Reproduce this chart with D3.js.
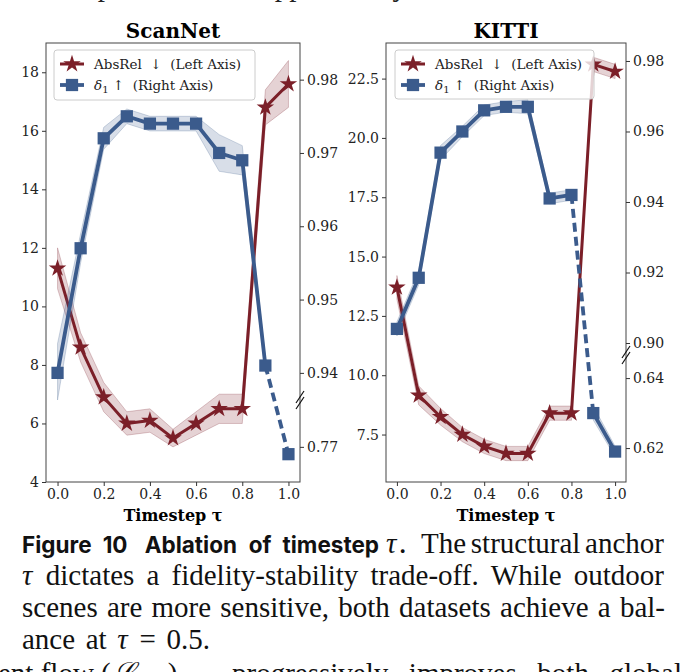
<!DOCTYPE html>
<html>
<head>
<meta charset="utf-8">
<script src="https://cdn.jsdelivr.net/npm/d3@7"></script>
<style>
  body { margin: 0; background: #fff; }
  svg { display: block; }
</style>
</head>
<body>
<div id="chart"></div>
<script>
// timestep values on the x axis
const taus = [0.0, 0.1, 0.2, 0.3, 0.4, 0.5, 0.6, 0.7, 0.8, 0.9, 1.0];
const xTicks = [0.0, 0.2, 0.4, 0.6, 0.8, 1.0];

// ScanNet
const scannetAbsRel = [11.3, 8.6, 6.9, 6.0, 6.1, 5.5, 6.0, 6.5, 6.5, 16.8, 17.6];
const scannetAbsRelStd = [0.7, 0.5, 0.5, 0.4, 0.4, 0.3, 0.4, 0.5, 0.5, 0.6, 0.8];
const scannetDelta = [0.940, 0.957, 0.972, 0.975, 0.974, 0.974, 0.974, 0.970, 0.969, 0.941, 0.769];
const scannetDeltaStd = [0.004, 0.002, 0.0015, 0.001, 0.001, 0.001, 0.001, 0.0025, 0.002, 0.001, 0.0003];
const scannetLeftTicks = [4, 6, 8, 10, 12, 14, 16, 18];
const scannetRightTicks = [0.77, 0.94, 0.95, 0.96, 0.97, 0.98];

// KITTI
const kittiAbsRel = [13.7, 9.15, 8.25, 7.5, 7.0, 6.7, 6.7, 8.4, 8.4, 23.1, 22.8];
const kittiAbsRelStd = [0.5, 0.4, 0.35, 0.3, 0.3, 0.3, 0.3, 0.3, 0.3, 0.3, 0.3];
const kittiDelta = [0.904, 0.9185, 0.954, 0.960, 0.966, 0.967, 0.967, 0.941, 0.942, 0.630, 0.619];
const kittiDeltaStd = [0.002, 0.002, 0.002, 0.0015, 0.0015, 0.0015, 0.002, 0.0015, 0.0015, 0.002, 0.0015];
const kittiLeftTicks = [7.5, 10.0, 12.5, 15.0, 17.5, 20.0, 22.5];
const kittiRightTicks = [0.62, 0.64, 0.90, 0.92, 0.94, 0.96, 0.98];

const width = 689;
const height = 672;
const red = '#7b1f28';
const blue = '#3b5b8c';
const serif = '"DejaVu Serif", serif';
const tex = '"Liberation Serif", serif';
const sans = 'Inter, "Noto Sans", sans-serif';
const texSize = 29;

const svg = d3.select('#chart')
    .append('svg')
    .attr('width', width)
    .attr('height', height)
    .attr('viewBox', [0, 0, width, height]);

svg.append('rect').attr('width', width).attr('height', height).attr('fill', '#fff');

const panels = [
    {
        title: 'ScanNet', left: 46, right: 300, top: 43, bottom: 482,
        absRel: scannetAbsRel, absStd: scannetAbsRelStd,
        delta: scannetDelta, deltaStd: scannetDeltaStd,
        leftDomain: [4, 19], leftTicks: scannetLeftTicks, leftFormat: d3.format('d'),
        // lower part of broken right axis, then upper part
        rightDomain: [0.7652, 0.7764, 0.9363, 0.985], breakY: 400,
        rightTicks: scannetRightTicks,
        legend: { x: 54, y: 50, w: 201, h: 50 }
    },
    {
        title: 'KITTI', left: 386, right: 626, top: 43, bottom: 482,
        absRel: kittiAbsRel, absStd: kittiAbsRelStd,
        delta: kittiDelta, deltaStd: kittiDeltaStd,
        leftDomain: [5.5, 24.0], leftTicks: kittiLeftTicks, leftFormat: d3.format('.1f'),
        rightDomain: [0.6103, 0.6466, 0.8966, 0.9851], breakY: 355,
        rightTicks: kittiRightTicks,
        legend: { x: 395, y: 50, w: 199, h: 49 }
    }
];

panels.forEach(p => drawPanel(p));

function drawPanel(p) {
    const g = svg.append('g');
    const x = d3.scaleLinear().domain([-0.05, 1.05]).range([p.left, p.right]);
    const yL = d3.scaleLinear().domain(p.leftDomain).range([p.bottom, p.top]);
    const yR = d3.scaleLinear().domain(p.rightDomain)
        .range([p.bottom, p.breakY, p.breakY, p.top]);
    const breakVal = p.rightDomain[1];

    const redPts = taus.map((t, i) => ({ t, v: p.absRel[i], s: p.absStd[i] }));
    const bluePts = taus.map((t, i) => ({ t, v: p.delta[i], s: p.deltaStd[i] }));
    const upper = bluePts.filter(d => d.v > breakVal);
    const lower = bluePts.filter(d => d.v <= breakVal);

    // AbsRel (left axis)
    const redArea = d3.area().x(d => x(d.t)).y0(d => yL(d.v - d.s)).y1(d => yL(d.v + d.s));
    g.append('path').datum(redPts)
        .attr('d', redArea)
        .attr('fill', red).attr('fill-opacity', 0.2)
        .attr('stroke', red).attr('stroke-opacity', 0.3).attr('stroke-width', 0.8);
    g.append('path').datum(redPts)
        .attr('d', d3.line().x(d => x(d.t)).y(d => yL(d.v)))
        .attr('fill', 'none').attr('stroke', red).attr('stroke-width', 3)
        .attr('stroke-linejoin', 'round');
    g.selectAll('.star').data(redPts).join('path')
        .attr('transform', d => `translate(${x(d.t)},${yL(d.v)})`)
        .attr('d', d3.symbol(d3.symbolStar, 95))
        .attr('fill', red);

    // delta_1 (right axis), broken into an upper and lower part
    const blueArea = d3.area().x(d => x(d.t)).y0(d => yR(d.v - d.s)).y1(d => yR(d.v + d.s));
    const blueLine = d3.line().x(d => x(d.t)).y(d => yR(d.v));
    [upper, lower].forEach(seg => {
        if (seg.length < 2) return;
        g.append('path').datum(seg)
            .attr('d', blueArea)
            .attr('fill', blue).attr('fill-opacity', 0.2)
            .attr('stroke', blue).attr('stroke-opacity', 0.3).attr('stroke-width', 0.8);
    });
    [upper, lower].forEach(seg => {
        if (seg.length < 2) return;
        g.append('path').datum(seg)
            .attr('d', blueLine)
            .attr('fill', 'none').attr('stroke', blue).attr('stroke-width', 3.8)
            .attr('stroke-linejoin', 'round');
    });
    g.append('path').datum([upper[upper.length - 1], lower[0]])
        .attr('d', blueLine)
        .attr('fill', 'none').attr('stroke', blue).attr('stroke-width', 3.8)
        .attr('stroke-dasharray', '9,5');
    g.selectAll('.sq').data(bluePts).join('path')
        .attr('transform', d => `translate(${x(d.t)},${yR(d.v)})`)
        .attr('d', d3.symbol(d3.symbolSquare, 150))
        .attr('fill', blue);

    // frame
    g.append('rect')
        .attr('x', p.left).attr('y', p.top)
        .attr('width', p.right - p.left).attr('height', p.bottom - p.top)
        .attr('fill', 'none').attr('stroke', '#444').attr('stroke-width', 1);

    // axes
    const styleAxis = a => {
        a.select('.domain').remove();
        a.selectAll('line').attr('stroke', '#333');
        a.selectAll('text').attr('font-family', serif).attr('font-size', 14).attr('fill', '#222');
    };
    g.append('g').attr('transform', `translate(${p.left},0)`)
        .call(d3.axisLeft(yL).tickValues(p.leftTicks).tickFormat(p.leftFormat).tickSize(4).tickPadding(3))
        .call(styleAxis);
    g.append('g').attr('transform', `translate(${p.right},0)`)
        .call(d3.axisRight(yR).tickValues(p.rightTicks).tickFormat(d3.format('.2f')).tickSize(4).tickPadding(3))
        .call(styleAxis);
    g.append('g').attr('transform', `translate(0,${p.bottom})`)
        .call(d3.axisBottom(x).tickValues(xTicks).tickFormat(d3.format('.1f')).tickSize(4).tickPadding(3))
        .call(styleAxis);

    // break marks on the right spine
    [-3, 3].forEach(o => {
        g.append('line')
            .attr('x1', p.right - 4).attr('y1', p.breakY + o + 6)
            .attr('x2', p.right + 4).attr('y2', p.breakY + o - 6)
            .attr('stroke', '#111').attr('stroke-width', 1.2);
    });

    // titles
    g.append('text')
        .attr('x', (p.left + p.right) / 2).attr('y', 38)
        .attr('text-anchor', 'middle')
        .attr('font-family', serif).attr('font-weight', 'bold').attr('font-size', 20)
        .text(p.title);
    g.append('text')
        .attr('x', (p.left + p.right) / 2).attr('y', 521)
        .attr('text-anchor', 'middle')
        .attr('font-family', serif).attr('font-weight', 'bold').attr('font-size', 16)
        .text('Timestep τ');

    // legend
    const L = p.legend;
    const lg = g.append('g');
    lg.append('rect')
        .attr('x', L.x).attr('y', L.y).attr('width', L.w).attr('height', L.h)
        .attr('rx', 3).attr('fill', '#fff').attr('fill-opacity', 0.8)
        .attr('stroke', '#ccc').attr('stroke-width', 1);
    const r1 = L.y + 14, r2 = L.y + 35;
    lg.append('line').attr('x1', L.x + 6).attr('x2', L.x + 30).attr('y1', r1).attr('y2', r1)
        .attr('stroke', red).attr('stroke-width', 3);
    lg.append('path').attr('transform', `translate(${L.x + 18},${r1})`)
        .attr('d', d3.symbol(d3.symbolStar, 95)).attr('fill', red);
    lg.append('line').attr('x1', L.x + 6).attr('x2', L.x + 30).attr('y1', r2).attr('y2', r2)
        .attr('stroke', blue).attr('stroke-width', 3.8);
    lg.append('path').attr('transform', `translate(${L.x + 18},${r2})`)
        .attr('d', d3.symbol(d3.symbolSquare, 150)).attr('fill', blue);
    lg.append('text')
        .attr('x', L.x + 40).attr('y', r1 + 5)
        .attr('font-family', serif).attr('font-size', 13.5).attr('fill', '#222')
        .style('white-space', 'pre')
        .text('AbsRel  ↓  (Left Axis)');
    const t2 = lg.append('text')
        .attr('x', L.x + 40).attr('y', r2 + 5)
        .attr('font-family', serif).attr('font-size', 13.5).attr('fill', '#222')
        .style('white-space', 'pre');
    t2.append('tspan').attr('font-style', 'italic').text('δ');
    t2.append('tspan').attr('font-size', 10).attr('dy', 3).text('1');
    t2.append('tspan').attr('dy', -3).text(' ↑  (Right Axis)');
}

// spread words of a line between x0 and x1 (justified text)
function justify(sel, words, x0, x1) {
    const spans = words.map(w => sel.append('tspan').text(w));
    const widths = spans.map(s => s.node().getComputedTextLength());
    const gap = words.length > 1 ? (x1 - x0 - d3.sum(widths)) / (words.length - 1) : 0;
    let cx = x0;
    spans.forEach((s, i) => { s.attr('x', cx); cx += widths[i] + gap; });
    return spans;
}

// page text cut off above the figure
const topLine = svg.append('g').attr('font-family', tex).attr('font-size', texSize).attr('fill', '#222');
[['the previous', 55], ['applied', 262], ['by', 378]].forEach(([w, xx]) => {
    topLine.append('text').attr('x', xx).attr('y', -4).text(w);
});

// caption
const cap = svg.append('g').attr('fill', '#111');
const b1 = cap.append('text').attr('y', 553)
    .attr('font-family', sans).attr('font-weight', 700).attr('font-size', 22.5);
justify(b1, ['Figure', '10', ' Ablation', 'of', 'timestep'], 22, 379);
cap.append('text').attr('x', 386).attr('y', 553)
    .attr('font-family', tex).attr('font-style', 'italic').attr('font-size', texSize).text('τ');
cap.append('text').attr('x', 399).attr('y', 553)
    .attr('font-family', sans).attr('font-weight', 700).attr('font-size', 22).text('.');
const t1 = cap.append('text').attr('y', 553).attr('font-family', tex).attr('font-size', texSize);
justify(t1, 'The structural anchor'.split(' '), 421, 664);

const t2 = cap.append('text').attr('y', 585).attr('font-family', tex).attr('font-size', texSize);
const w2 = justify(t2, ('τ dictates a fidelity-stability trade-off. While outdoor').split(' '), 22, 664);
w2[0].attr('font-style', 'italic');

const t3 = cap.append('text').attr('y', 617).attr('font-family', tex).attr('font-size', texSize);
justify(t3, 'scenes are more sensitive, both datasets achieve a bal-'.split(' '), 22, 665);

const t4 = cap.append('text').attr('y', 649).attr('font-family', tex).attr('font-size', texSize);
const w4 = justify(t4, ['ance', 'at', 'τ', '=', '0.5.'], 22, 210);
w4[2].attr('font-style', 'italic');

// next paragraph, cut off at the bottom
const t5 = cap.append('text').attr('x', -2).attr('y', 683).attr('font-family', tex).attr('font-size', texSize);
t5.append('tspan').text('ent flow (');
t5.append('tspan').attr('font-style', 'italic').text('ℒ');
t5.append('tspan').attr('font-size', 18).attr('dy', 5).text('flow');
t5.append('tspan').attr('dy', -5).text(')');
const end5 = -2 + t5.node().getComputedTextLength();
const t6 = cap.append('text').attr('y', 683).attr('font-family', tex).attr('font-size', texSize);
justify(t6, 'progressively improves both global'.split(' '), Math.max(end5 + 10, 232), 682);
</script>
</body>
</html>
